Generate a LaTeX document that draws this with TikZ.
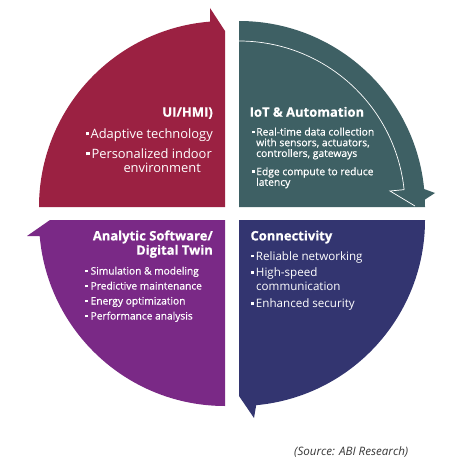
\documentclass[tikz,border=0pt]{standalone}
\usepackage{fontspec}
\setmainfont{Open Sans}
\newfontfamily\semib[FakeBold=0.6]{Open Sans}
\newfontfamily\xbold[FakeBold=0.7]{Open Sans Bold}
\definecolor{qred}{RGB}{155,33,66}
\definecolor{qteal}{RGB}{62,96,100}
\definecolor{qnavy}{RGB}{51,53,112}
\definecolor{qpurple}{RGB}{122,41,134}
\definecolor{srcgray}{RGB}{55,55,55}
\newcommand\sqb[1][2pt]{\rule[0.22em]{0.24em}{0.24em}\hspace{#1}}
\begin{document}
\begin{tikzpicture}[x=1pt,y=-1pt,
  txt/.style={inner sep=0pt, text=white},
  hd/.style={txt, font=\xbold\fontsize{13}{15}\selectfont},
  redbody/.style={txt, font=\fontsize{12.9}{15}\selectfont},
  tealbody/.style={txt, font=\semib\fontsize{10.3}{11}\selectfont},
  navybody/.style={txt, font=\fontsize{11.6}{13}\selectfont},
  purpbody/.style={txt, font=\semib\fontsize{10.2}{12}\selectfont}]
\useasboundingbox (0,0) rectangle (458,473);
\fill[white] (0,0) rectangle (458,473);
% quadrants
\fill[qred] (225,207) -- (39,207) arc[start angle=180, end angle=265.4, radius=186] -- (210,8) -- (225,31) -- cycle;
\fill[qteal] (239,207) -- (239,21) arc[start angle=270, end angle=360, radius=186] -- cycle;
\fill[qteal] (404,189) -- (390,191) -- (415,206) -- (435,193) -- (424,189) -- cycle;
\draw[white, line width=0.7pt] (239,41) arc[start angle=270, end angle=354, radius=166] -- (390,191) -- (415,206);
\fill[qnavy] (239,220) -- (425,220) arc[start angle=0, end angle=84.7, radius=186] -- (254,418) -- (239,396) -- cycle;
\fill[qpurple] (225,220) -- (225,406) arc[start angle=90, end angle=175, radius=186] -- (27,236) -- (50,220) -- cycle;
% red texts
\node[hd, anchor=base east] (uihmi) at (213,116.7) {UI/HMI)};
\node[redbody, anchor=base east] (r1) at (213,138.3) {\sqb Adaptive technology};
\node[redbody, anchor=base east] (r2) at (212,158.3) {\sqb Personalized indoor};
\node[redbody, anchor=base west] (r3) at (123.3,172.7) {environment};
% teal texts
\node[hd, anchor=base west] (iot) at (249.5,116.7) {IoT \& Automation};
\node[tealbody, anchor=base west] (t1) at (252,135.5) {\sqb[1.6pt]Real-time data collection};
\node[tealbody, anchor=base west] (t2) at (256,146.2) {with sensors, actuators,};
\node[tealbody, anchor=base west] (t3) at (256,156.9) {controllers, gateways};
\node[tealbody, anchor=base west] (t4) at (252,175.2) {\sqb[1.6pt]Edge compute to reduce};
\node[tealbody, anchor=base west] (t5) at (256,185.8) {latency};
% navy texts
\node[hd, anchor=base west] (conn) at (250.3,240.4) {Connectivity};
\node[navybody, anchor=base west] (n1) at (251,260) {\sqb[2pt]Reliable networking};
\node[navybody, anchor=base west] (n2) at (251,276.3) {\sqb[2pt]High-speed};
\node[navybody, anchor=base west] (n3) at (256,290) {communication};
\node[navybody, anchor=base west] (n4) at (251,307.6) {\sqb[2pt]Enhanced security};
% purple texts
\node[hd, anchor=base east] (ana) at (213,240.4) {Analytic Software/};
\node[hd, anchor=base east] (dtw) at (213,254.7) {Digital Twin};
\node[purpbody, anchor=base west] (p1) at (85,274.5) {\sqb[3pt]Simulation \& modeling};
\node[purpbody, anchor=base west] (p2) at (85,289.5) {\sqb[3pt]Predictive maintenance};
\node[purpbody, anchor=base west] (p3) at (85,304.5) {\sqb[3pt]Energy optimization};
\node[purpbody, anchor=base west] (p4) at (85,319.5) {\sqb[3pt]Performance analysis};
% source
\node[inner sep=0pt, anchor=base west, text=srcgray, font=\itshape\fontsize{11.6}{13}\selectfont] (src) at (294,455.5) {(Source: ABI Research)};
\end{tikzpicture}
\end{document}
